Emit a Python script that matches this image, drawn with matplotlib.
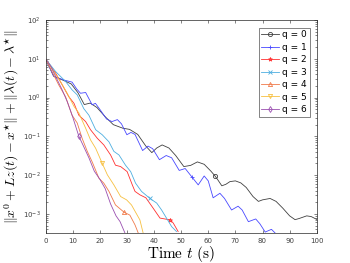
import numpy as np
import matplotlib
matplotlib.use('Agg')
import matplotlib.pyplot as plt
from matplotlib.ticker import LogLocator, NullFormatter, MultipleLocator

plt.rcParams['mathtext.fontset'] = 'cm'

# values (time in s, error norm)
t0 = [0, 3, 7, 9.5, 12, 14.3, 16.5, 19, 22, 25, 28.5, 31, 34, 37, 39.2, 41, 43, 45.5, 48, 51,
      53.5, 56, 58.5, 61, 62.5, 63.5, 65, 66.5, 68, 70, 72, 74, 76.5, 78.5, 80, 82.8, 85, 87.5,
      90, 92, 93.5, 96.3, 98, 100]
e0 = [10, 3.55, 2.7, 2.24, 1.32, 0.66, 0.72, 0.55, 0.32, 0.2, 0.162, 0.151, 0.112, 0.056, 0.038,
      0.05, 0.06, 0.05, 0.032, 0.0166, 0.0178, 0.0219, 0.019, 0.0126, 0.0095, 0.0076, 0.0053,
      0.0058, 0.0068, 0.0071, 0.0063, 0.0048, 0.0028, 0.0021, 0.0023, 0.0025, 0.0021, 0.0014,
      0.00089, 0.00071, 0.00076, 0.00089, 0.00085, 0.00072]

t1 = [0, 3, 7, 9.8, 11.5, 12.9, 14.8, 17.2, 18.4, 20, 22.5, 24.5, 26.5, 28, 30, 31.5, 33, 35.8,
      37.8, 39.5, 42, 44.5, 46.5, 49.3, 51.5, 54, 56.3, 58.5, 60, 61.8, 64.3, 66, 68.6, 71, 72.5,
      74.8, 77.5, 79, 81, 83.3, 85.5]
e1 = [10, 3.55, 2.8, 2.5, 1.66, 1.29, 1.35, 0.65, 0.71, 0.5, 0.28, 0.24, 0.27, 0.21, 0.11, 0.126,
      0.112, 0.043, 0.056, 0.048, 0.025, 0.032, 0.028, 0.0132, 0.0148, 0.0089, 0.0056, 0.0095,
      0.0071, 0.0026, 0.0034, 0.0025, 0.00126, 0.00158, 0.00126, 0.00063, 0.00074, 0.00056,
      0.00034, 0.0004, 0.00028]

t2 = [0, 3.7, 6.2, 8.6, 10.5, 12.3, 14.8, 16.6, 19.1, 21.5, 24, 25.8, 27.7, 30.1, 32, 33, 34.8,
      37, 39.7, 42.2, 44, 46, 47.1, 48.9]
e2 = [10, 4.3, 2.1, 1.05, 0.71, 0.35, 0.24, 0.148, 0.089, 0.06, 0.033, 0.018, 0.0166, 0.0123,
      0.0056, 0.0038, 0.0031, 0.0026, 0.0014, 0.00078, 0.00074, 0.0007, 0.00058, 0.00035]

t3 = [0, 3.7, 7.4, 9.8, 11.7, 14.1, 16, 18.5, 20.9, 23.4, 25.2, 27.1, 29.5, 31.4, 33.2, 35.4,
      38.5, 41, 42.8, 44.6, 46.5, 48.3]
e3 = [10, 4.7, 2.6, 1.58, 1.17, 0.52, 0.35, 0.148, 0.11, 0.072, 0.041, 0.033, 0.018, 0.0123,
      0.0062, 0.0038, 0.0025, 0.0019, 0.00126, 0.00078, 0.00047, 0.00035]

t4 = [0, 2.5, 4.9, 7.4, 9.8, 11.7, 13.5, 15.4, 17.2, 19.7, 21.5, 23.4, 25.8, 29, 31.1, 33, 34.2]
e4 = [10, 4.5, 2.1, 1.05, 0.35, 0.22, 0.089, 0.041, 0.022, 0.0083, 0.0062, 0.0038, 0.0017,
      0.0011, 0.00093, 0.00052, 0.00032]

t5 = [0, 2.8, 5.5, 8, 10.5, 12.3, 14.8, 16.6, 18.5, 20.8, 22.8, 25.2, 27.7, 29.9, 31.7, 34.8, 36]
e5 = [10, 5, 2.6, 1.29, 0.59, 0.4, 0.162, 0.081, 0.049, 0.021, 0.0102, 0.0056, 0.0028, 0.0023,
      0.0017, 0.0007, 0.00032]

t6 = [0, 2, 4, 6, 8, 10, 12.3, 14, 16, 18, 20, 22, 24, 26, 27.5, 29.3]
e6 = [10, 6.3, 3.2, 1.66, 0.79, 0.32, 0.1, 0.056, 0.028, 0.0126, 0.0079, 0.0045, 0.0018,
      0.00089, 0.00063, 0.00032]

labels = ['q = 0', 'q = 1', 'q = 2', 'q = 3', 'q = 4', 'q = 5', 'q = 6']
mark_t = [62.5, 54, 46, 38.5, 29, 20.8, 12.3]

series = [(t0, e0), (t1, e1), (t2, e2), (t3, e3), (t4, e4), (t5, e5), (t6, e6)]
colors = ['#404040', '#4848ff', '#ff3030', '#4daee0', '#f07a4a', '#f7c040', '#9a4fb0']
markers = ['o', '+', '*', 'x', '^', 'v', 'd']

fig = plt.figure(figsize=(3.5, 2.63), dpi=100)
ax = fig.add_axes([0.13, 0.113, 0.775, 0.811])

for (t, e), c, m, lab, mt in zip(series, colors, markers, labels, mark_t):
    ax.semilogy(t, e, color=c, lw=0.6, marker=m, ms=3, mew=0.6, mfc='none',
                markevery=[t.index(mt)], label=lab)

ax.set_xlim(0, 100)
ax.set_ylim(10**-3.5, 100)
ax.xaxis.set_major_locator(MultipleLocator(10))
ax.yaxis.set_major_locator(LogLocator(base=10, numticks=10))
ax.yaxis.set_minor_locator(LogLocator(base=10, subs=np.arange(2, 10), numticks=10))
ax.yaxis.set_minor_formatter(NullFormatter())
ax.tick_params(which='both', direction='in', top=True, right=True, labelsize=5,
               colors='#262626', labelcolor='#404040', width=0.4)
ax.tick_params(which='major', length=2.5)
ax.tick_params(which='minor', length=1.3)
for s in ax.spines.values():
    s.set_linewidth(0.5)
    s.set_color('#262626')

ax.set_xlabel(r'$\mathrm{Time}\ t\ \mathrm{(s)}$', fontsize=11, labelpad=0)
ax.set_ylabel(r'$\|x^0+Lz(t)-x^{\star}\|+\|\lambda(t)-\lambda^{\star}\|$', fontsize=10, labelpad=1)

leg = ax.legend(loc='upper right', fontsize=6.5, handlelength=2.0, fancybox=False,
                borderpad=0.3, labelspacing=0.38, handletextpad=0.3,
                bbox_to_anchor=(0.99, 0.985))
leg.get_frame().set_edgecolor('#262626')
leg.get_frame().set_linewidth(0.5)

fig.savefig('out.png', dpi=100)
